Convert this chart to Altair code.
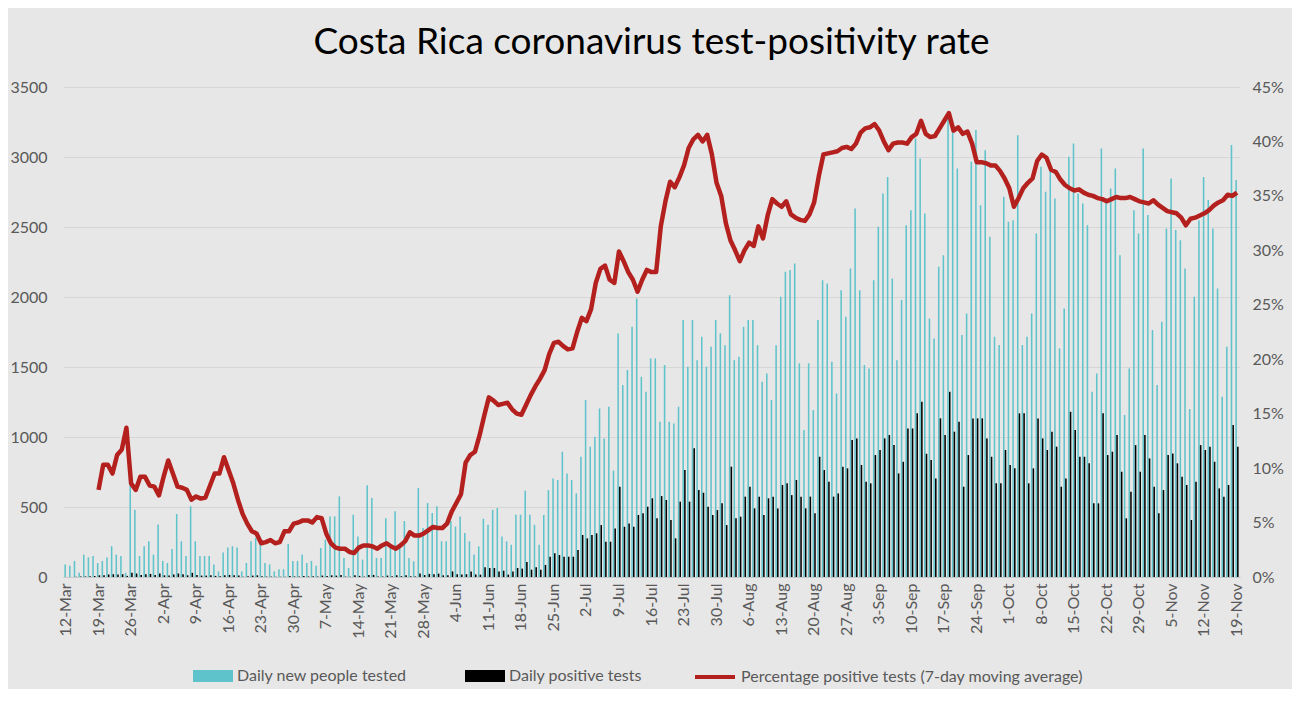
import altair as alt
import pandas as pd

# ---- categories (one per day, 12-Mar .. 19-Nov) ----
dates = pd.date_range("2020-03-12", "2020-11-19", freq="D")
day_labels = [f"{d.day}-{d.strftime('%b')}" for d in dates]
tick_labels = day_labels[::7]

# ---- daily new people tested (weekly rows, Thu..Wed) ----
tested_rows = [
    [90, 80, 115, 30, 160, 140, 150],
    [100, 115, 140, 220, 160, 150, 30],
    [660, 480, 150, 220, 255, 160, 375],
    [115, 100, 200, 450, 255, 150, 505],
    [255, 150, 150, 150, 90, 40, 175],
    [210, 220, 210, 40, 100, 255, 280],
    [235, 100, 90, 40, 55, 55, 235],
    [115, 115, 160, 100, 115, 80, 207],
    [267, 433, 433, 576, 136, 64, 445],
    [290, 124, 655, 564, 136, 136, 420],
    [207, 470, 230, 400, 136, 112, 635],
    [350, 528, 457, 505, 255, 255, 400],
    [360, 433, 314, 255, 160, 219, 416],
    [373, 480, 493, 290, 255, 230, 445],
    [445, 616, 445, 373, 230, 443, 621],
    [704, 693, 895, 740, 693, 597, 859],
    [1264, 931, 1002, 1204, 990, 1216, 760],
    [1740, 1371, 1478, 1787, 1990, 1430, 1323],
    [1561, 1561, 1109, 1514, 1109, 1097, 1216],
    [1835, 1502, 1835, 1549, 1716, 1502, 1645],
    [1835, 1740, 1656, 2013, 1549, 1573, 1787],
    [1835, 1835, 1656, 1395, 1454, 1264, 1656],
    [2002, 2180, 2192, 2240, 1526, 1050, 1526],
    [1192, 1835, 2120, 2097, 1537, 1311, 2049],
    [1859, 2204, 2632, 2049, 1514, 1490, 2120],
    [2501, 2739, 2858, 2132, 1549, 1978, 2513],
    [2620, 3132, 2989, 2596, 1847, 1704, 2216],
    [2299, 3311, 3192, 2918, 1728, 1883, 2966],
    [3192, 2656, 3049, 2430, 1716, 1657, 2716],
    [2537, 2549, 3156, 1657, 1716, 1883, 2454],
    [2930, 2751, 2954, 2704, 1633, 1918, 3001],
    [3096, 2739, 2668, 2513, 1323, 1454, 3061],
    [2704, 2775, 2918, 2299, 1157, 1490, 2620],
    [2454, 3061, 2585, 1764, 1371, 1823, 2490],
    [2846, 2478, 2406, 2204, 1200, 2002, 2549],
    [2858, 2692, 2490, 2061, 1288, 1645, 3085],
    [2835],
]

# ---- daily positive tests ----
positive_rows = [
    [0, 0, 2, 3, 4, 5, 7],
    [12, 13, 18, 20, 17, 20, 8],
    [30, 25, 15, 20, 22, 15, 25],
    [12, 10, 18, 25, 20, 12, 30],
    [15, 10, 10, 12, 8, 5, 12],
    [15, 12, 10, 2, 5, 10, 12],
    [5, 3, 3, 1, 2, 2, 8],
    [4, 4, 8, 4, 5, 4, 10],
    [8, 12, 10, 15, 3, 2, 12],
    [8, 3, 15, 15, 3, 3, 10],
    [6, 12, 6, 12, 5, 4, 25],
    [14, 22, 20, 24, 12, 12, 40],
    [20, 17, 20, 40, 17, 17, 69],
    [64, 64, 40, 45, 17, 40, 64],
    [60, 107, 52, 69, 52, 86, 145],
    [169, 157, 145, 145, 145, 193, 300],
    [276, 300, 312, 371, 252, 252, 347],
    [645, 359, 383, 359, 443, 455, 502],
    [562, 419, 578, 550, 407, 276, 538],
    [764, 538, 919, 621, 602, 502, 443],
    [478, 526, 371, 788, 419, 431, 574],
    [645, 490, 574, 443, 562, 574, 490],
    [657, 669, 585, 693, 574, 490, 574],
    [455, 859, 764, 681, 574, 597, 788],
    [776, 978, 990, 800, 681, 669, 871],
    [907, 990, 1014, 942, 740, 823, 1061],
    [1061, 1169, 1252, 880, 835, 704, 1133],
    [1014, 1323, 1038, 1109, 645, 871, 1133],
    [1133, 1133, 990, 859, 669, 669, 907],
    [800, 776, 1169, 1169, 669, 776, 1133],
    [990, 907, 1038, 931, 645, 704, 1180],
    [1050, 859, 859, 812, 526, 526, 1169],
    [871, 895, 1014, 752, 419, 609, 942],
    [752, 1014, 847, 645, 455, 621, 871],
    [883, 812, 716, 657, 407, 681, 942],
    [907, 931, 823, 633, 574, 657, 1085],
    [931],
]

# ---- 7-day moving average of positivity, in percent ----
positivity_rows = [
    [None, None, None, None, None, None, None],
    [8.0, 10.3, 10.3, 9.5, 11.2, 11.7, 13.7],
    [8.6, 8.0, 9.2, 9.2, 8.4, 8.3, 7.5],
    [9.2, 10.7, 9.5, 8.3, 8.2, 8.0, 7.1],
    [7.4, 7.2, 7.3, 8.4, 9.5, 9.5, 11.0],
    [9.8, 8.6, 7.1, 5.8, 4.9, 4.2, 4.0],
    [3.1, 3.2, 3.4, 3.1, 3.2, 4.2, 4.2],
    [4.9, 5.0, 5.2, 5.2, 5.0, 5.5, 5.4],
    [4.0, 3.1, 2.7, 2.6, 2.6, 2.3, 2.2],
    [2.7, 2.9, 2.9, 2.8, 2.6, 2.9, 3.1],
    [2.8, 2.6, 2.9, 3.3, 4.1, 3.8, 3.8],
    [4.0, 4.3, 4.6, 4.5, 4.5, 4.9, 6.0],
    [6.8, 7.6, 10.5, 11.2, 11.5, 13.0, 14.8],
    [16.5, 16.2, 15.8, 15.9, 16.0, 15.4, 15.0],
    [14.9, 15.8, 16.7, 17.5, 18.2, 19.0, 20.5],
    [21.5, 21.6, 21.2, 20.9, 21.0, 22.5, 23.8],
    [23.5, 24.6, 27.0, 28.3, 28.6, 27.3, 27.0],
    [29.9, 29.0, 28.0, 27.3, 26.2, 27.3, 28.2],
    [28.0, 28.0, 32.2, 34.5, 36.3, 35.8, 36.7],
    [37.8, 39.4, 40.2, 40.6, 40.0, 40.6, 38.8],
    [36.2, 35.0, 32.5, 30.9, 30.0, 29.0, 30.0],
    [30.7, 30.4, 32.2, 31.1, 33.2, 34.7, 34.3],
    [34.0, 34.5, 33.3, 33.0, 32.8, 32.7, 33.3],
    [34.4, 36.8, 38.8, 38.9, 39.0, 39.1, 39.4],
    [39.5, 39.3, 39.8, 40.8, 41.2, 41.3, 41.6],
    [41.0, 40.0, 39.2, 39.8, 39.9, 39.9, 39.8],
    [40.4, 40.7, 41.9, 40.7, 40.4, 40.5, 41.2],
    [41.9, 42.6, 41.0, 41.3, 40.7, 40.9, 39.8],
    [38.1, 38.1, 38.0, 37.8, 37.8, 37.3, 36.6],
    [35.7, 34.0, 34.8, 35.7, 36.2, 36.6, 38.2],
    [38.8, 38.5, 37.4, 37.2, 36.5, 36.0, 35.7],
    [35.5, 35.6, 35.3, 35.1, 35.0, 34.8, 34.7],
    [34.5, 34.7, 34.9, 34.8, 34.8, 34.9, 34.7],
    [34.5, 34.4, 34.3, 34.6, 34.2, 33.9, 33.6],
    [33.5, 33.4, 33.0, 32.3, 32.9, 33.0, 33.2],
    [33.4, 33.7, 34.1, 34.4, 34.6, 35.1, 35.0],
    [35.3],
]

tested = [v for row in tested_rows for v in row]
positive = [v for row in positive_rows for v in row]
positivity = [None if v is None else v / 100 for row in positivity_rows for v in row]

S_TEST = "Daily new people tested"
S_POS = "Daily positive tests"
S_LINE = "Percentage positive tests (7-day moving average)"

df = pd.DataFrame({
    "day": day_labels,
    S_TEST: tested,
    S_POS: positive,
    "pct": positivity,
    "line": S_LINE,
})

FONT = "Lato"
GREY = "#595959"
CYAN = "#5ec3ca"
RED = "#b3201d"

x_enc = alt.X(
    "day:N",
    scale=alt.Scale(domain=day_labels, paddingInner=0.3, paddingOuter=0.3),
    axis=alt.Axis(values=tick_labels, labelAngle=-90, title=None, ticks=False,
                  domainColor="#c8c8c8", labelFontSize=16, labelColor=GREY,
                  labelFont=FONT, labelPadding=6, grid=False),
)

bars = alt.Chart(df).transform_fold(
    [S_TEST, S_POS], as_=["series", "value"]
).mark_bar().encode(
    x=x_enc,
    xOffset=alt.XOffset("series:N", scale=alt.Scale(domain=[S_TEST, S_POS], paddingInner=0.1)),
    y=alt.Y("value:Q", scale=alt.Scale(domain=[0, 3500]),
            axis=alt.Axis(values=list(range(0, 3501, 500)), format="d", title=None,
                          ticks=False, domain=False, gridColor="#d6d6d6",
                          labelFontSize=16, labelColor=GREY, labelFont=FONT,
                          labelPadding=16)),
    color=alt.Color("series:N",
                    scale=alt.Scale(domain=[S_TEST, S_POS], range=[CYAN, "#000000"]),
                    legend=alt.Legend(orient="none", legendX=130, legendY=569,
                                      direction="horizontal", title=None,
                                      symbolType="M-1,-0.3H1V0.3H-1Z", symbolSize=1600,
                                      symbolStrokeWidth=0, labelFontSize=16,
                                      labelFont=FONT, labelColor=GREY, labelOffset=4,
                                      labelLimit=600, columnPadding=58, padding=0)),
)

line = alt.Chart(df).mark_line(strokeWidth=4.5, strokeJoin="round").encode(
    x=x_enc,
    y=alt.Y("pct:Q", scale=alt.Scale(domain=[0, 0.45]),
            axis=alt.Axis(orient="right", values=[i / 100 for i in range(0, 46, 5)],
                          format=".0%", title=None, ticks=False, domain=False,
                          grid=False, labelFontSize=16, labelColor=GREY,
                          labelFont=FONT, labelPadding=12)),
    stroke=alt.Stroke("line:N", scale=alt.Scale(domain=[S_LINE], range=[RED]),
                      legend=alt.Legend(orient="none", legendX=630, legendY=568,
                                        title=None, symbolType="stroke",
                                        symbolSize=1600, symbolStrokeWidth=4,
                                        labelFontSize=16, labelFont=FONT,
                                        labelColor=GREY, labelOffset=4,
                                        labelLimit=600, padding=0)),
)

chart = alt.layer(bars, line).resolve_scale(y="independent").properties(
    width=1177,
    height=490,
    title=alt.TitleParams("Costa Rica coronavirus test-positivity rate", fontSize=37,
                          font=FONT, fontWeight="normal", color="#000000",
                          anchor="middle", offset=17),
    autosize=alt.AutoSizeParams(type="none"),
    padding={"left": 55, "top": 79, "right": 52, "bottom": 112},
    background="#e7e7e7",
).configure_view(stroke=None)

chart.save("out.html", embed_options={"renderer": "svg", "actions": False})
